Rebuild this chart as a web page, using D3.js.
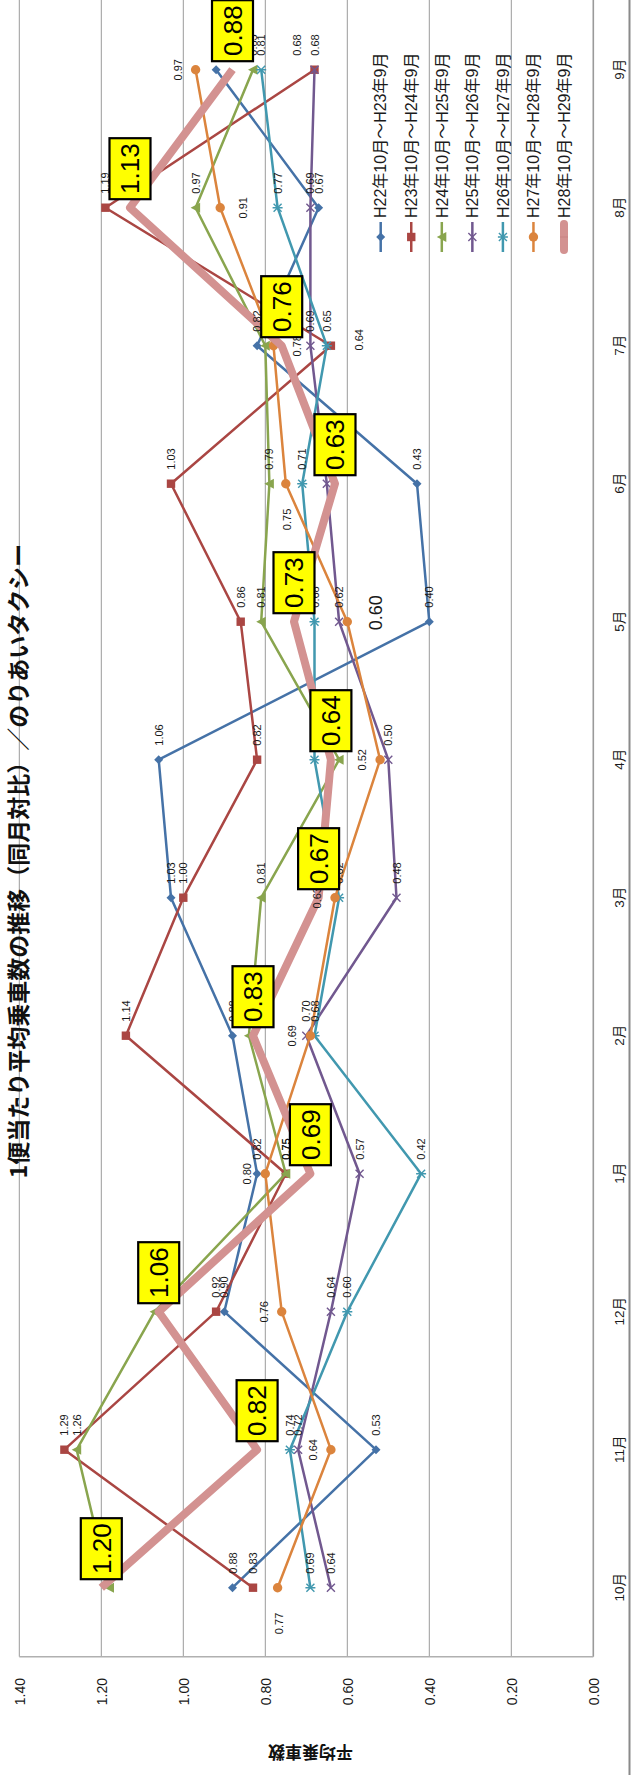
<!DOCTYPE html>
<html><head><meta charset="utf-8">
<script src="https://cdn.jsdelivr.net/npm/d3@7/dist/d3.min.js"></script>
<style>body{margin:0;background:#fff}svg{display:block}</style>
</head><body>
<script>
// ---- data ----
const months = ["10月","11月","12月","1月","2月","3月","4月","5月","6月","7月","8月","9月"];
const seriesNames = ["H22年10月～H23年9月","H23年10月～H24年9月","H24年10月～H25年9月","H25年10月～H26年9月","H26年10月～H27年9月","H27年10月～H28年9月","H28年10月～H29年9月"];
const h22 = [0.88,0.53,0.90,0.82,0.88,1.03,1.06,0.40,0.43,0.82,0.67,0.92];
const h23 = [0.83,1.29,0.92,0.75,1.14,1.00,0.82,0.86,1.03,0.64,1.19,0.68];
const h24 = [1.18,1.26,1.07,0.75,0.84,0.81,0.62,0.81,0.79,0.80,0.97,0.83];
const h25 = [0.64,0.72,0.64,0.57,0.70,0.48,0.50,0.62,0.65,0.69,0.69,0.68];
const h26 = [0.69,0.74,0.60,0.42,0.68,0.62,0.68,0.68,0.71,0.65,0.77,0.81];
const h27 = [0.77,0.64,0.76,0.80,0.69,0.63,0.52,0.60,0.75,0.78,0.91,0.97];
const h28 = [1.20,0.82,1.06,0.69,0.83,0.67,0.64,0.73,0.63,0.76,1.13,0.88];
const yTicks = [0,0.2,0.4,0.6,0.8,1.0,1.2,1.4];
const titleText = "1便当たり平均乗車数の推移（同月対比）／のりあいタクシー";
const yTitle = "平均乗車数";

// ---- styles ----
const seriesValues = [h22,h23,h24,h25,h26,h27,h28];
const colors = ["#4572A7","#AA4643","#89A54E","#71588F","#4198AF","#DB843D","#D39291"];
const markers = ["diamond","square","triangle","x","star","circle","none"];
// label placement overrides "series-month"
const labelPlace = {
  "5-0":"l","5-1":"a","5-2":"a","5-3":"a","5-4":"a","5-5":"a","5-6":"a","5-7":"big",
  "5-8":"l","5-9":"b","5-10":"b","5-11":"a",
  "1-9":"b2","1-11":"rUp"
};

const W = 1775, H = 635;
const svg = d3.select("body").append("svg").attr("width",635).attr("height",1775);
const g = svg.append("g").attr("transform",`translate(0,${W}) rotate(-90)`);

const x = d3.scalePoint().domain(months).range([118.3,1774.3]).padding(0.5);
const y = d3.scaleLinear().domain([0,1.4]).range([593.3,19.3]);
const NUMF = "'Liberation Sans', Arial, sans-serif";
const JPF = "'Liberation Sans', 'Noto Sans CJK JP', sans-serif";

// chart border line
g.append("line").attr("x1",0).attr("x2",W).attr("y1",629.5).attr("y2",629.5)
  .attr("stroke","#8a8a8a").attr("stroke-width",2);

// gridlines
g.append("g").selectAll("line").data(yTicks).join("line")
  .attr("x1",118.3).attr("x2",W).attr("y1",d=>y(d)).attr("y2",d=>y(d))
  .attr("stroke","#9a9a9a").attr("stroke-width",d=>d===0?1.6:1);
// plot left border (value axis line)
g.append("line").attr("x1",118.3).attr("x2",118.3).attr("y1",y(1.4)).attr("y2",y(0))
  .attr("stroke","#b0b0b0").attr("stroke-width",1.6);

// value axis labels
const yAxis = d3.axisLeft(y).tickValues(yTicks).tickFormat(d3.format(".2f")).tickSize(0).tickPadding(0);
const ya = g.append("g").attr("transform","translate(97,0)").call(yAxis);
ya.select(".domain").remove();
ya.selectAll("text").attr("font-family",NUMF).attr("font-size",14).attr("fill","#1a1a1a").attr("dy","0.36em");

// category axis labels
const xAxis = d3.axisBottom(x).tickSize(0).tickPadding(0);
const xa = g.append("g").attr("transform","translate(0,611)").call(xAxis);
xa.select(".domain").remove();
xa.selectAll("text").attr("font-family",JPF).attr("font-size",13.5).attr("fill","#1a1a1a").attr("dy","0.95em");

// y title
g.append("text").attr("transform","translate(29.5,310.5) rotate(-90)").attr("text-anchor","middle")
  .attr("font-family","'Noto Sans CJK JP', sans-serif").attr("font-weight","bold").attr("font-size",17)
  .attr("fill","#111").text(yTitle);

// title
g.append("text").attr("x",914).attr("y",27).attr("text-anchor","middle")
  .attr("font-family","'Noto Sans CJK JP', sans-serif").attr("font-weight","bold").attr("font-size",23)
  .attr("fill","#111").text(titleText);

function drawMarker(sel, type, color){
  const r = 4.5;
  if(type==="diamond") sel.append("path").attr("d",`M0,${-r}L${r},0L0,${r}L${-r},0Z`).attr("fill",color);
  else if(type==="square") sel.append("rect").attr("x",-4.2).attr("y",-4.2).attr("width",8.4).attr("height",8.4).attr("fill",color);
  else if(type==="triangle") sel.append("path").attr("d",`M0,-5L5,4.5L-5,4.5Z`).attr("fill",color);
  else if(type==="circle") sel.append("circle").attr("r",4.7).attr("fill",color);
  else if(type==="x") sel.append("path").attr("d","M-4,-4L4,4M-4,4L4,-4").attr("stroke",color).attr("stroke-width",1.4).attr("fill","none");
  else if(type==="star") sel.append("path").attr("d","M-4,-4L4,4M-4,4L4,-4M0,-5L0,5").attr("stroke",color).attr("stroke-width",1.4).attr("fill","none");
}

const line = d3.line().x((d,i)=>x(months[i])).y(d=>y(d));

// series
seriesValues.forEach((vals,si)=>{
  const sg = g.append("g");
  const thick = si===6;
  sg.append("path").attr("d",line(vals)).attr("fill","none").attr("stroke",colors[si])
    .attr("stroke-width",thick?8:2.5).attr("stroke-linejoin","round").attr("stroke-linecap","butt");
  if(markers[si]!=="none"){
    vals.forEach((v,i)=>{
      const mg = sg.append("g").attr("transform",`translate(${x(months[i])},${y(v)})`);
      drawMarker(mg, markers[si], colors[si]);
    });
  }
});

// data labels (normal series)
const lg = g.append("g").attr("font-family",NUMF).attr("fill","#1a1a1a");
seriesValues.forEach((vals,si)=>{
  if(si===6) return;
  vals.forEach((v,i)=>{
    const px = x(months[i]), py = y(v);
    const p = labelPlace[si+"-"+i] || "r";
    const t = lg.append("text").attr("font-size",11).text(d3.format(".2f")(v));
    if(p==="r") t.attr("x",px+14).attr("y",py+4).attr("text-anchor","start");
    else if(p==="rUp") t.attr("x",px+14).attr("y",py+4-18).attr("text-anchor","start");
    else if(p==="a") t.attr("x",px).attr("y",py-14).attr("text-anchor","middle");
    else if(p==="b") t.attr("x",px).attr("y",py+27).attr("text-anchor","middle");
    else if(p==="b2") t.attr("x",px+6).attr("y",py+32).attr("text-anchor","middle");
    else if(p==="l") t.attr("x",px-25).attr("y",py+5).attr("text-anchor","end");
    else if(p==="big") t.attr("font-size",18).attr("x",px+9).attr("y",py+35).attr("text-anchor","middle");
  });
});

// highlighted labels for last series
const bg = g.append("g");
h28.forEach((v,i)=>{
  const px = x(months[i]), py = y(v);
  bg.append("rect").attr("x",px+8.5).attr("y",py-20.5).attr("width",61).attr("height",41)
    .attr("fill","#FFFF00").attr("stroke","#000").attr("stroke-width",2.2);
  bg.append("text").attr("x",px+8.5+30.5).attr("y",py+9.3).attr("text-anchor","middle")
    .attr("font-family",NUMF).attr("font-size",26).attr("fill","#000").text(d3.format(".2f")(v));
});

// legend
const leg = g.append("g");
seriesNames.forEach((name,si)=>{
  const ly = 380.7 + 30.55*si;
  const eg = leg.append("g");
  if(si===6){
    eg.append("line").attr("x1",1525).attr("x2",1551).attr("y1",ly).attr("y2",ly)
      .attr("stroke",colors[si]).attr("stroke-width",8).attr("stroke-linecap","round");
    eg.append("line").attr("x1",1538).attr("x2",1538).attr("y1",ly-4).attr("y2",ly+4)
      .attr("stroke","#c88383").attr("stroke-width",1);
  } else {
    eg.append("line").attr("x1",1523).attr("x2",1553).attr("y1",ly).attr("y2",ly)
      .attr("stroke",colors[si]).attr("stroke-width",2.5);
    const mg = eg.append("g").attr("transform",`translate(1538,${ly})`);
    drawMarker(mg, markers[si], colors[si]);
  }
  eg.append("text").attr("x",1557).attr("y",ly).attr("dy","0.36em")
    .attr("font-family",JPF).attr("font-size",16).attr("fill","#1a1a1a").text(name);
});
</script>
</body></html>
